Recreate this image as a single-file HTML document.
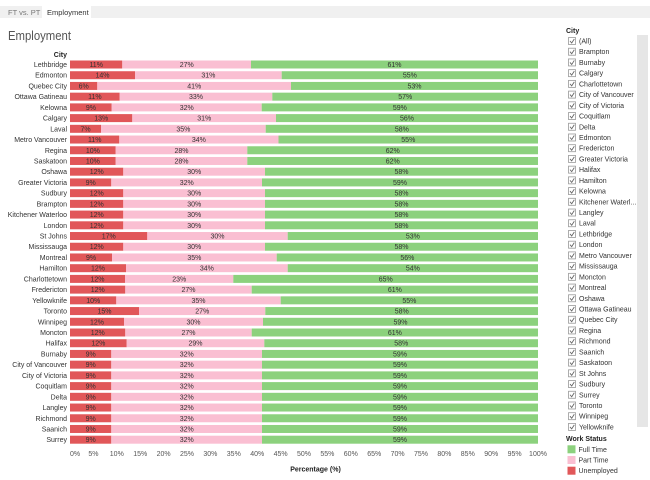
<!DOCTYPE html>
<html>
<head>
<meta charset="utf-8">
<style>
html,body{margin:0;padding:0;background:#fff;}
svg{display:block;font-family:"Liberation Sans","DejaVu Sans",sans-serif;}
.u{fill:#e15759}
.p{fill:#fabfd2}
.f{fill:#8cd17d}
.c{font-size:7px;fill:#333;text-anchor:end}
.l{font-size:7px;fill:#333;text-anchor:middle}
.t{font-size:7px;fill:#555;text-anchor:middle}
.h{font-size:7px;fill:#222;font-weight:bold}
.li{font-size:7px;fill:#333}
.cb{fill:#fff;stroke:#999;stroke-width:0.8}
.ck{fill:none;stroke:#666;stroke-width:0.9}
</style>
</head>
<body>
<svg width="650" height="480" viewBox="0 0 650 480" xmlns="http://www.w3.org/2000/svg">
<!-- tab bar -->
<rect x="0" y="6" width="650" height="12" fill="#f0f0f0"/>
<rect x="42" y="6" width="49" height="12" fill="#fff"/>
<text x="8" y="15" style="font-size:7.5px;fill:#777">FT vs. PT</text>
<text x="47" y="15" style="font-size:7.5px;fill:#333">Employment</text>
<!-- title -->
<text x="8" y="40" style="font-size:13px;fill:#555" textLength="63" lengthAdjust="spacingAndGlyphs">Employment</text>
<!-- City header -->
<text x="67" y="57" class="h" text-anchor="end">City</text>

<g transform="translate(0,64.5)"><text x="67" y="2.5" class="c">Lethbridge</text><rect class="u" x="70" y="-4" width="52.3" height="8"/><rect class="p" x="122.3" y="-4" width="128.7" height="8"/><rect class="f" x="251" y="-4" width="287" height="8"/><text class="l" x="96.2" y="2.5">11%</text><text class="l" x="186.7" y="2.5">27%</text><text class="l" x="394.5" y="2.5">61%</text></g>
<g transform="translate(0,75.22)"><text x="67" y="2.5" class="c">Edmonton</text><rect class="u" x="70" y="-4" width="65" height="8"/><rect class="p" x="135" y="-4" width="146.7" height="8"/><rect class="f" x="281.7" y="-4" width="256.3" height="8"/><text class="l" x="102.5" y="2.5">14%</text><text class="l" x="208.4" y="2.5">31%</text><text class="l" x="409.9" y="2.5">55%</text></g>
<g transform="translate(0,85.94)"><text x="67" y="2.5" class="c">Quebec City</text><rect class="u" x="70" y="-4" width="27.3" height="8"/><rect class="p" x="97.3" y="-4" width="193.7" height="8"/><rect class="f" x="291" y="-4" width="247" height="8"/><text class="l" x="83.7" y="2.5">6%</text><text class="l" x="194.2" y="2.5">41%</text><text class="l" x="414.5" y="2.5">53%</text></g>
<g transform="translate(0,96.66)"><text x="67" y="2.5" class="c">Ottawa Gatineau</text><rect class="u" x="70" y="-4" width="49.7" height="8"/><rect class="p" x="119.7" y="-4" width="152.6" height="8"/><rect class="f" x="272.3" y="-4" width="265.7" height="8"/><text class="l" x="94.9" y="2.5">11%</text><text class="l" x="196" y="2.5">33%</text><text class="l" x="405.2" y="2.5">57%</text></g>
<g transform="translate(0,107.38)"><text x="67" y="2.5" class="c">Kelowna</text><rect class="u" x="70" y="-4" width="41.7" height="8"/><rect class="p" x="111.7" y="-4" width="150" height="8"/><rect class="f" x="261.7" y="-4" width="276.3" height="8"/><text class="l" x="90.9" y="2.5">9%</text><text class="l" x="186.7" y="2.5">32%</text><text class="l" x="399.9" y="2.5">59%</text></g>
<g transform="translate(0,118.1)"><text x="67" y="2.5" class="c">Calgary</text><rect class="u" x="70" y="-4" width="62.3" height="8"/><rect class="p" x="132.3" y="-4" width="143.7" height="8"/><rect class="f" x="276" y="-4" width="262" height="8"/><text class="l" x="101.2" y="2.5">13%</text><text class="l" x="204.2" y="2.5">31%</text><text class="l" x="407" y="2.5">56%</text></g>
<g transform="translate(0,128.82)"><text x="67" y="2.5" class="c">Laval</text><rect class="u" x="70" y="-4" width="31" height="8"/><rect class="p" x="101" y="-4" width="164.7" height="8"/><rect class="f" x="265.7" y="-4" width="272.3" height="8"/><text class="l" x="85.5" y="2.5">7%</text><text class="l" x="183.4" y="2.5">35%</text><text class="l" x="401.9" y="2.5">58%</text></g>
<g transform="translate(0,139.54)"><text x="67" y="2.5" class="c">Metro Vancouver</text><rect class="u" x="70" y="-4" width="49.3" height="8"/><rect class="p" x="119.3" y="-4" width="159.2" height="8"/><rect class="f" x="278.5" y="-4" width="259.5" height="8"/><text class="l" x="94.7" y="2.5">11%</text><text class="l" x="198.9" y="2.5">34%</text><text class="l" x="408.3" y="2.5">55%</text></g>
<g transform="translate(0,150.26)"><text x="67" y="2.5" class="c">Regina</text><rect class="u" x="70" y="-4" width="45.7" height="8"/><rect class="p" x="115.7" y="-4" width="131.6" height="8"/><rect class="f" x="247.3" y="-4" width="290.7" height="8"/><text class="l" x="92.9" y="2.5">10%</text><text class="l" x="181.5" y="2.5">28%</text><text class="l" x="392.7" y="2.5">62%</text></g>
<g transform="translate(0,160.98)"><text x="67" y="2.5" class="c">Saskatoon</text><rect class="u" x="70" y="-4" width="45.7" height="8"/><rect class="p" x="115.7" y="-4" width="131.6" height="8"/><rect class="f" x="247.3" y="-4" width="290.7" height="8"/><text class="l" x="92.9" y="2.5">10%</text><text class="l" x="181.5" y="2.5">28%</text><text class="l" x="392.7" y="2.5">62%</text></g>
<g transform="translate(0,171.7)"><text x="67" y="2.5" class="c">Oshawa</text><rect class="u" x="70" y="-4" width="53.3" height="8"/><rect class="p" x="123.3" y="-4" width="141.7" height="8"/><rect class="f" x="265" y="-4" width="273" height="8"/><text class="l" x="96.7" y="2.5">12%</text><text class="l" x="194.2" y="2.5">30%</text><text class="l" x="401.5" y="2.5">58%</text></g>
<g transform="translate(0,182.42)"><text x="67" y="2.5" class="c">Greater Victoria</text><rect class="u" x="70" y="-4" width="41.3" height="8"/><rect class="p" x="111.3" y="-4" width="150.7" height="8"/><rect class="f" x="262" y="-4" width="276" height="8"/><text class="l" x="90.7" y="2.5">9%</text><text class="l" x="186.7" y="2.5">32%</text><text class="l" x="400" y="2.5">59%</text></g>
<g transform="translate(0,193.14)"><text x="67" y="2.5" class="c">Sudbury</text><rect class="u" x="70" y="-4" width="53.3" height="8"/><rect class="p" x="123.3" y="-4" width="141.7" height="8"/><rect class="f" x="265" y="-4" width="273" height="8"/><text class="l" x="96.7" y="2.5">12%</text><text class="l" x="194.2" y="2.5">30%</text><text class="l" x="401.5" y="2.5">58%</text></g>
<g transform="translate(0,203.86)"><text x="67" y="2.5" class="c">Brampton</text><rect class="u" x="70" y="-4" width="53.3" height="8"/><rect class="p" x="123.3" y="-4" width="141.7" height="8"/><rect class="f" x="265" y="-4" width="273" height="8"/><text class="l" x="96.7" y="2.5">12%</text><text class="l" x="194.2" y="2.5">30%</text><text class="l" x="401.5" y="2.5">58%</text></g>
<g transform="translate(0,214.58)"><text x="67" y="2.5" class="c">Kitchener Waterloo</text><rect class="u" x="70" y="-4" width="53.3" height="8"/><rect class="p" x="123.3" y="-4" width="141.7" height="8"/><rect class="f" x="265" y="-4" width="273" height="8"/><text class="l" x="96.7" y="2.5">12%</text><text class="l" x="194.2" y="2.5">30%</text><text class="l" x="401.5" y="2.5">58%</text></g>
<g transform="translate(0,225.3)"><text x="67" y="2.5" class="c">London</text><rect class="u" x="70" y="-4" width="53.3" height="8"/><rect class="p" x="123.3" y="-4" width="141.7" height="8"/><rect class="f" x="265" y="-4" width="273" height="8"/><text class="l" x="96.7" y="2.5">12%</text><text class="l" x="194.2" y="2.5">30%</text><text class="l" x="401.5" y="2.5">58%</text></g>
<g transform="translate(0,236.02)"><text x="67" y="2.5" class="c">St Johns</text><rect class="u" x="70" y="-4" width="77.3" height="8"/><rect class="p" x="147.3" y="-4" width="140.4" height="8"/><rect class="f" x="287.7" y="-4" width="250.3" height="8"/><text class="l" x="108.7" y="2.5">17%</text><text class="l" x="217.5" y="2.5">30%</text><text class="l" x="412.9" y="2.5">53%</text></g>
<g transform="translate(0,246.74)"><text x="67" y="2.5" class="c">Mississauga</text><rect class="u" x="70" y="-4" width="53.3" height="8"/><rect class="p" x="123.3" y="-4" width="141.7" height="8"/><rect class="f" x="265" y="-4" width="273" height="8"/><text class="l" x="96.7" y="2.5">12%</text><text class="l" x="194.2" y="2.5">30%</text><text class="l" x="401.5" y="2.5">58%</text></g>
<g transform="translate(0,257.46)"><text x="67" y="2.5" class="c">Montreal</text><rect class="u" x="70" y="-4" width="42" height="8"/><rect class="p" x="112" y="-4" width="164.7" height="8"/><rect class="f" x="276.7" y="-4" width="261.3" height="8"/><text class="l" x="91" y="2.5">9%</text><text class="l" x="194.4" y="2.5">35%</text><text class="l" x="407.4" y="2.5">56%</text></g>
<g transform="translate(0,268.18)"><text x="67" y="2.5" class="c">Hamilton</text><rect class="u" x="70" y="-4" width="56" height="8"/><rect class="p" x="126" y="-4" width="161.7" height="8"/><rect class="f" x="287.7" y="-4" width="250.3" height="8"/><text class="l" x="98" y="2.5">12%</text><text class="l" x="206.9" y="2.5">34%</text><text class="l" x="412.9" y="2.5">54%</text></g>
<g transform="translate(0,278.9)"><text x="67" y="2.5" class="c">Charlottetown</text><rect class="u" x="70" y="-4" width="55" height="8"/><rect class="p" x="125" y="-4" width="108.3" height="8"/><rect class="f" x="233.3" y="-4" width="304.7" height="8"/><text class="l" x="97.5" y="2.5">12%</text><text class="l" x="179.2" y="2.5">23%</text><text class="l" x="385.7" y="2.5">65%</text></g>
<g transform="translate(0,289.62)"><text x="67" y="2.5" class="c">Fredericton</text><rect class="u" x="70" y="-4" width="55.3" height="8"/><rect class="p" x="125.3" y="-4" width="126.4" height="8"/><rect class="f" x="251.7" y="-4" width="286.3" height="8"/><text class="l" x="97.7" y="2.5">12%</text><text class="l" x="188.5" y="2.5">27%</text><text class="l" x="394.9" y="2.5">61%</text></g>
<g transform="translate(0,300.34)"><text x="67" y="2.5" class="c">Yellowknife</text><rect class="u" x="70" y="-4" width="46.3" height="8"/><rect class="p" x="116.3" y="-4" width="164.4" height="8"/><rect class="f" x="280.7" y="-4" width="257.3" height="8"/><text class="l" x="93.2" y="2.5">10%</text><text class="l" x="198.5" y="2.5">35%</text><text class="l" x="409.4" y="2.5">55%</text></g>
<g transform="translate(0,311.06)"><text x="67" y="2.5" class="c">Toronto</text><rect class="u" x="70" y="-4" width="69" height="8"/><rect class="p" x="139" y="-4" width="126.3" height="8"/><rect class="f" x="265.3" y="-4" width="272.7" height="8"/><text class="l" x="104.5" y="2.5">15%</text><text class="l" x="202.2" y="2.5">27%</text><text class="l" x="401.7" y="2.5">58%</text></g>
<g transform="translate(0,321.78)"><text x="67" y="2.5" class="c">Winnipeg</text><rect class="u" x="70" y="-4" width="54" height="8"/><rect class="p" x="124" y="-4" width="139" height="8"/><rect class="f" x="263" y="-4" width="275" height="8"/><text class="l" x="97" y="2.5">12%</text><text class="l" x="193.5" y="2.5">30%</text><text class="l" x="400.5" y="2.5">59%</text></g>
<g transform="translate(0,332.5)"><text x="67" y="2.5" class="c">Moncton</text><rect class="u" x="70" y="-4" width="55.3" height="8"/><rect class="p" x="125.3" y="-4" width="126.4" height="8"/><rect class="f" x="251.7" y="-4" width="286.3" height="8"/><text class="l" x="97.7" y="2.5">12%</text><text class="l" x="188.5" y="2.5">27%</text><text class="l" x="394.9" y="2.5">61%</text></g>
<g transform="translate(0,343.22)"><text x="67" y="2.5" class="c">Halifax</text><rect class="u" x="70" y="-4" width="56.7" height="8"/><rect class="p" x="126.7" y="-4" width="137.6" height="8"/><rect class="f" x="264.3" y="-4" width="273.7" height="8"/><text class="l" x="98.4" y="2.5">12%</text><text class="l" x="195.5" y="2.5">29%</text><text class="l" x="401.2" y="2.5">58%</text></g>
<g transform="translate(0,353.94)"><text x="67" y="2.5" class="c">Burnaby</text><rect class="u" x="70" y="-4" width="41.3" height="8"/><rect class="p" x="111.3" y="-4" width="150.7" height="8"/><rect class="f" x="262" y="-4" width="276" height="8"/><text class="l" x="90.7" y="2.5">9%</text><text class="l" x="186.7" y="2.5">32%</text><text class="l" x="400" y="2.5">59%</text></g>
<g transform="translate(0,364.66)"><text x="67" y="2.5" class="c">City of Vancouver</text><rect class="u" x="70" y="-4" width="41.3" height="8"/><rect class="p" x="111.3" y="-4" width="150.7" height="8"/><rect class="f" x="262" y="-4" width="276" height="8"/><text class="l" x="90.7" y="2.5">9%</text><text class="l" x="186.7" y="2.5">32%</text><text class="l" x="400" y="2.5">59%</text></g>
<g transform="translate(0,375.38)"><text x="67" y="2.5" class="c">City of Victoria</text><rect class="u" x="70" y="-4" width="41.3" height="8"/><rect class="p" x="111.3" y="-4" width="150.7" height="8"/><rect class="f" x="262" y="-4" width="276" height="8"/><text class="l" x="90.7" y="2.5">9%</text><text class="l" x="186.7" y="2.5">32%</text><text class="l" x="400" y="2.5">59%</text></g>
<g transform="translate(0,386.1)"><text x="67" y="2.5" class="c">Coquitlam</text><rect class="u" x="70" y="-4" width="41.3" height="8"/><rect class="p" x="111.3" y="-4" width="150.7" height="8"/><rect class="f" x="262" y="-4" width="276" height="8"/><text class="l" x="90.7" y="2.5">9%</text><text class="l" x="186.7" y="2.5">32%</text><text class="l" x="400" y="2.5">59%</text></g>
<g transform="translate(0,396.82)"><text x="67" y="2.5" class="c">Delta</text><rect class="u" x="70" y="-4" width="41.3" height="8"/><rect class="p" x="111.3" y="-4" width="150.7" height="8"/><rect class="f" x="262" y="-4" width="276" height="8"/><text class="l" x="90.7" y="2.5">9%</text><text class="l" x="186.7" y="2.5">32%</text><text class="l" x="400" y="2.5">59%</text></g>
<g transform="translate(0,407.54)"><text x="67" y="2.5" class="c">Langley</text><rect class="u" x="70" y="-4" width="41.3" height="8"/><rect class="p" x="111.3" y="-4" width="150.7" height="8"/><rect class="f" x="262" y="-4" width="276" height="8"/><text class="l" x="90.7" y="2.5">9%</text><text class="l" x="186.7" y="2.5">32%</text><text class="l" x="400" y="2.5">59%</text></g>
<g transform="translate(0,418.26)"><text x="67" y="2.5" class="c">Richmond</text><rect class="u" x="70" y="-4" width="41.3" height="8"/><rect class="p" x="111.3" y="-4" width="150.7" height="8"/><rect class="f" x="262" y="-4" width="276" height="8"/><text class="l" x="90.7" y="2.5">9%</text><text class="l" x="186.7" y="2.5">32%</text><text class="l" x="400" y="2.5">59%</text></g>
<g transform="translate(0,428.98)"><text x="67" y="2.5" class="c">Saanich</text><rect class="u" x="70" y="-4" width="41.3" height="8"/><rect class="p" x="111.3" y="-4" width="150.7" height="8"/><rect class="f" x="262" y="-4" width="276" height="8"/><text class="l" x="90.7" y="2.5">9%</text><text class="l" x="186.7" y="2.5">32%</text><text class="l" x="400" y="2.5">59%</text></g>
<g transform="translate(0,439.7)"><text x="67" y="2.5" class="c">Surrey</text><rect class="u" x="70" y="-4" width="41.3" height="8"/><rect class="p" x="111.3" y="-4" width="150.7" height="8"/><rect class="f" x="262" y="-4" width="276" height="8"/><text class="l" x="90.7" y="2.5">9%</text><text class="l" x="186.7" y="2.5">32%</text><text class="l" x="400" y="2.5">59%</text></g>

<!-- x axis ticks -->
<g>
<text class="t" x="70" y="456" text-anchor="start" style="text-anchor:start">0%</text>
<text class="t" x="93.4" y="456">5%</text>
<text class="t" x="116.8" y="456">10%</text>
<text class="t" x="140.2" y="456">15%</text>
<text class="t" x="163.6" y="456">20%</text>
<text class="t" x="187" y="456">25%</text>
<text class="t" x="210.4" y="456">30%</text>
<text class="t" x="233.8" y="456">35%</text>
<text class="t" x="257.2" y="456">40%</text>
<text class="t" x="280.6" y="456">45%</text>
<text class="t" x="304" y="456">50%</text>
<text class="t" x="327.4" y="456">55%</text>
<text class="t" x="350.8" y="456">60%</text>
<text class="t" x="374.2" y="456">65%</text>
<text class="t" x="397.6" y="456">70%</text>
<text class="t" x="421" y="456">75%</text>
<text class="t" x="444.4" y="456">80%</text>
<text class="t" x="467.8" y="456">85%</text>
<text class="t" x="491.2" y="456">90%</text>
<text class="t" x="514.6" y="456">95%</text>
<text class="t" x="538" y="456">100%</text>
</g>
<text x="315.5" y="471.5" class="h" text-anchor="middle">Percentage (%)</text>

<!-- right panel -->
<rect x="637" y="35" width="11" height="392" fill="#e6e6e6"/>
<text x="566" y="33" class="h">City</text>
<g transform="translate(0,41)"><rect class="cb" x="568.5" y="-3.5" width="7" height="7"/><path class="ck" d="M570 0 l1.7 2 l2.6 -4"/><text class="li" x="579" y="2.5">(All)</text></g>
<g transform="translate(0,51.72)"><rect class="cb" x="568.5" y="-3.5" width="7" height="7"/><path class="ck" d="M570 0 l1.7 2 l2.6 -4"/><text class="li" x="579" y="2.5">Brampton</text></g>
<g transform="translate(0,62.44)"><rect class="cb" x="568.5" y="-3.5" width="7" height="7"/><path class="ck" d="M570 0 l1.7 2 l2.6 -4"/><text class="li" x="579" y="2.5">Burnaby</text></g>
<g transform="translate(0,73.16)"><rect class="cb" x="568.5" y="-3.5" width="7" height="7"/><path class="ck" d="M570 0 l1.7 2 l2.6 -4"/><text class="li" x="579" y="2.5">Calgary</text></g>
<g transform="translate(0,83.88)"><rect class="cb" x="568.5" y="-3.5" width="7" height="7"/><path class="ck" d="M570 0 l1.7 2 l2.6 -4"/><text class="li" x="579" y="2.5">Charlottetown</text></g>
<g transform="translate(0,94.6)"><rect class="cb" x="568.5" y="-3.5" width="7" height="7"/><path class="ck" d="M570 0 l1.7 2 l2.6 -4"/><text class="li" x="579" y="2.5">City of Vancouver</text></g>
<g transform="translate(0,105.32)"><rect class="cb" x="568.5" y="-3.5" width="7" height="7"/><path class="ck" d="M570 0 l1.7 2 l2.6 -4"/><text class="li" x="579" y="2.5">City of Victoria</text></g>
<g transform="translate(0,116.04)"><rect class="cb" x="568.5" y="-3.5" width="7" height="7"/><path class="ck" d="M570 0 l1.7 2 l2.6 -4"/><text class="li" x="579" y="2.5">Coquitlam</text></g>
<g transform="translate(0,126.76)"><rect class="cb" x="568.5" y="-3.5" width="7" height="7"/><path class="ck" d="M570 0 l1.7 2 l2.6 -4"/><text class="li" x="579" y="2.5">Delta</text></g>
<g transform="translate(0,137.48)"><rect class="cb" x="568.5" y="-3.5" width="7" height="7"/><path class="ck" d="M570 0 l1.7 2 l2.6 -4"/><text class="li" x="579" y="2.5">Edmonton</text></g>
<g transform="translate(0,148.2)"><rect class="cb" x="568.5" y="-3.5" width="7" height="7"/><path class="ck" d="M570 0 l1.7 2 l2.6 -4"/><text class="li" x="579" y="2.5">Fredericton</text></g>
<g transform="translate(0,158.92)"><rect class="cb" x="568.5" y="-3.5" width="7" height="7"/><path class="ck" d="M570 0 l1.7 2 l2.6 -4"/><text class="li" x="579" y="2.5">Greater Victoria</text></g>
<g transform="translate(0,169.64)"><rect class="cb" x="568.5" y="-3.5" width="7" height="7"/><path class="ck" d="M570 0 l1.7 2 l2.6 -4"/><text class="li" x="579" y="2.5">Halifax</text></g>
<g transform="translate(0,180.36)"><rect class="cb" x="568.5" y="-3.5" width="7" height="7"/><path class="ck" d="M570 0 l1.7 2 l2.6 -4"/><text class="li" x="579" y="2.5">Hamilton</text></g>
<g transform="translate(0,191.08)"><rect class="cb" x="568.5" y="-3.5" width="7" height="7"/><path class="ck" d="M570 0 l1.7 2 l2.6 -4"/><text class="li" x="579" y="2.5">Kelowna</text></g>
<g transform="translate(0,201.8)"><rect class="cb" x="568.5" y="-3.5" width="7" height="7"/><path class="ck" d="M570 0 l1.7 2 l2.6 -4"/><text class="li" x="579" y="2.5">Kitchener Waterl...</text></g>
<g transform="translate(0,212.52)"><rect class="cb" x="568.5" y="-3.5" width="7" height="7"/><path class="ck" d="M570 0 l1.7 2 l2.6 -4"/><text class="li" x="579" y="2.5">Langley</text></g>
<g transform="translate(0,223.24)"><rect class="cb" x="568.5" y="-3.5" width="7" height="7"/><path class="ck" d="M570 0 l1.7 2 l2.6 -4"/><text class="li" x="579" y="2.5">Laval</text></g>
<g transform="translate(0,233.96)"><rect class="cb" x="568.5" y="-3.5" width="7" height="7"/><path class="ck" d="M570 0 l1.7 2 l2.6 -4"/><text class="li" x="579" y="2.5">Lethbridge</text></g>
<g transform="translate(0,244.68)"><rect class="cb" x="568.5" y="-3.5" width="7" height="7"/><path class="ck" d="M570 0 l1.7 2 l2.6 -4"/><text class="li" x="579" y="2.5">London</text></g>
<g transform="translate(0,255.4)"><rect class="cb" x="568.5" y="-3.5" width="7" height="7"/><path class="ck" d="M570 0 l1.7 2 l2.6 -4"/><text class="li" x="579" y="2.5">Metro Vancouver</text></g>
<g transform="translate(0,266.12)"><rect class="cb" x="568.5" y="-3.5" width="7" height="7"/><path class="ck" d="M570 0 l1.7 2 l2.6 -4"/><text class="li" x="579" y="2.5">Mississauga</text></g>
<g transform="translate(0,276.84)"><rect class="cb" x="568.5" y="-3.5" width="7" height="7"/><path class="ck" d="M570 0 l1.7 2 l2.6 -4"/><text class="li" x="579" y="2.5">Moncton</text></g>
<g transform="translate(0,287.56)"><rect class="cb" x="568.5" y="-3.5" width="7" height="7"/><path class="ck" d="M570 0 l1.7 2 l2.6 -4"/><text class="li" x="579" y="2.5">Montreal</text></g>
<g transform="translate(0,298.28)"><rect class="cb" x="568.5" y="-3.5" width="7" height="7"/><path class="ck" d="M570 0 l1.7 2 l2.6 -4"/><text class="li" x="579" y="2.5">Oshawa</text></g>
<g transform="translate(0,309)"><rect class="cb" x="568.5" y="-3.5" width="7" height="7"/><path class="ck" d="M570 0 l1.7 2 l2.6 -4"/><text class="li" x="579" y="2.5">Ottawa Gatineau</text></g>
<g transform="translate(0,319.72)"><rect class="cb" x="568.5" y="-3.5" width="7" height="7"/><path class="ck" d="M570 0 l1.7 2 l2.6 -4"/><text class="li" x="579" y="2.5">Quebec City</text></g>
<g transform="translate(0,330.44)"><rect class="cb" x="568.5" y="-3.5" width="7" height="7"/><path class="ck" d="M570 0 l1.7 2 l2.6 -4"/><text class="li" x="579" y="2.5">Regina</text></g>
<g transform="translate(0,341.16)"><rect class="cb" x="568.5" y="-3.5" width="7" height="7"/><path class="ck" d="M570 0 l1.7 2 l2.6 -4"/><text class="li" x="579" y="2.5">Richmond</text></g>
<g transform="translate(0,351.88)"><rect class="cb" x="568.5" y="-3.5" width="7" height="7"/><path class="ck" d="M570 0 l1.7 2 l2.6 -4"/><text class="li" x="579" y="2.5">Saanich</text></g>
<g transform="translate(0,362.6)"><rect class="cb" x="568.5" y="-3.5" width="7" height="7"/><path class="ck" d="M570 0 l1.7 2 l2.6 -4"/><text class="li" x="579" y="2.5">Saskatoon</text></g>
<g transform="translate(0,373.32)"><rect class="cb" x="568.5" y="-3.5" width="7" height="7"/><path class="ck" d="M570 0 l1.7 2 l2.6 -4"/><text class="li" x="579" y="2.5">St Johns</text></g>
<g transform="translate(0,384.04)"><rect class="cb" x="568.5" y="-3.5" width="7" height="7"/><path class="ck" d="M570 0 l1.7 2 l2.6 -4"/><text class="li" x="579" y="2.5">Sudbury</text></g>
<g transform="translate(0,394.76)"><rect class="cb" x="568.5" y="-3.5" width="7" height="7"/><path class="ck" d="M570 0 l1.7 2 l2.6 -4"/><text class="li" x="579" y="2.5">Surrey</text></g>
<g transform="translate(0,405.48)"><rect class="cb" x="568.5" y="-3.5" width="7" height="7"/><path class="ck" d="M570 0 l1.7 2 l2.6 -4"/><text class="li" x="579" y="2.5">Toronto</text></g>
<g transform="translate(0,416.2)"><rect class="cb" x="568.5" y="-3.5" width="7" height="7"/><path class="ck" d="M570 0 l1.7 2 l2.6 -4"/><text class="li" x="579" y="2.5">Winnipeg</text></g>
<g transform="translate(0,426.92)"><rect class="cb" x="568.5" y="-3.5" width="7" height="7"/><path class="ck" d="M570 0 l1.7 2 l2.6 -4"/><text class="li" x="579" y="2.5">Yellowknife</text></g>

<text x="566" y="441" class="h">Work Status</text>
<g transform="translate(0,449.3)"><rect class="f" x="567.5" y="-4" width="8" height="8"/><text class="li" x="578.5" y="2.5">Full Time</text></g>
<g transform="translate(0,460)"><rect class="p" x="567.5" y="-4" width="8" height="8"/><text class="li" x="578.5" y="2.5">Part Time</text></g>
<g transform="translate(0,470.7)"><rect class="u" x="567.5" y="-4" width="8" height="8"/><text class="li" x="578.5" y="2.5">Unemployed</text></g>
</svg>
</body>
</html>
